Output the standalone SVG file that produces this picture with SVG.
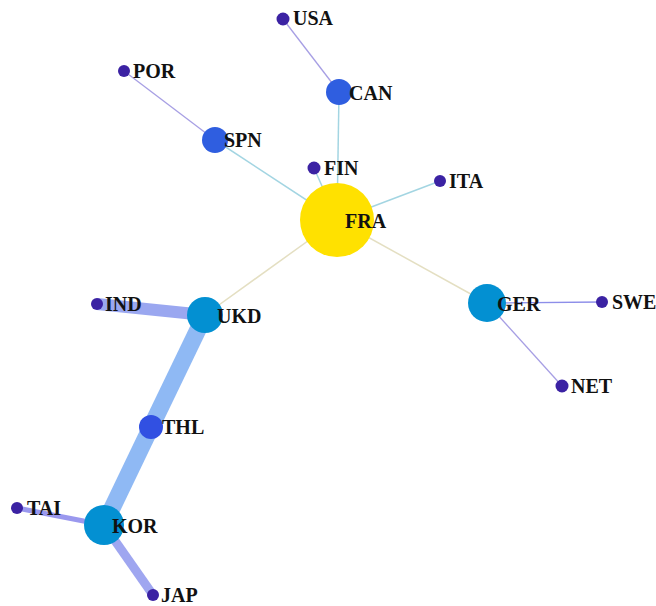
<svg xmlns="http://www.w3.org/2000/svg" width="656" height="606" viewBox="0 0 656 606">
<style>
text{font-family:"Liberation Serif","Times New Roman",serif;font-weight:bold;font-size:20px;fill:#111}
.e{fill:none;stroke-linecap:butt}
.t{stroke:#a3d5e2;stroke-width:1.5}
.b{stroke:#e4dfc2;stroke-width:1.5}
.l{stroke:#a79fe4;stroke-width:1.3}
.s{fill:#3b22a3}
.m{fill:#2f5ee0}
.h{fill:#3150e2}
.c{fill:#0390d2}
.y{fill:#ffe100}
</style>
<rect width="656" height="606" fill="#fff"/>
<g id="edges">
<line class="e t" x1="337" y1="220" x2="339" y2="92"/>
<line class="e t" x1="337" y1="220" x2="215" y2="140"/>
<line class="e t" x1="337" y1="220" x2="314" y2="168"/>
<line class="e t" x1="337" y1="220" x2="440" y2="181"/>
<line class="e b" x1="337" y1="220" x2="205" y2="315"/>
<line class="e b" x1="337" y1="220" x2="487" y2="303"/>
<line class="e l" x1="339" y1="92" x2="283" y2="19"/>
<line class="e l" x1="215" y1="140" x2="124" y2="71"/>
<line class="e l" x1="487" y1="303" x2="602" y2="302" style="stroke:#8d8ee9"/>
<line class="e l" x1="487" y1="303" x2="562" y2="386"/>
<line class="e" x1="97" y1="304" x2="205" y2="315" style="stroke:#9aa7f0;stroke-width:12"/>
<line class="e" x1="205" y1="315" x2="151" y2="427" style="stroke:#8fb9f4;stroke-width:17"/>
<line class="e" x1="151" y1="427" x2="104" y2="525" style="stroke:#8fb9f4;stroke-width:17"/>
<line class="e" x1="104" y1="525" x2="17" y2="508" style="stroke:#9a98ee;stroke-width:5"/>
<line class="e" x1="104" y1="525" x2="153" y2="595" style="stroke:#9fa6f0;stroke-width:9"/>
</g>
<g id="FRA"><circle class="y" cx="337" cy="220" r="37"/><text x="345" y="228">FRA</text></g>
<g id="CAN"><circle class="m" cx="339" cy="92" r="13"/><text x="349" y="100">CAN</text></g>
<g id="USA"><circle class="s" cx="283" cy="19" r="6.5"/><text x="293" y="25">USA</text></g>
<g id="POR"><circle class="s" cx="124" cy="71" r="6"/><text x="133" y="78">POR</text></g>
<g id="SPN"><circle class="m" cx="215" cy="140" r="13"/><text x="224" y="147">SPN</text></g>
<g id="FIN"><circle class="s" cx="314" cy="168" r="6.5"/><text x="324" y="175">FIN</text></g>
<g id="ITA"><circle class="s" cx="440" cy="181" r="6"/><text x="449" y="188">ITA</text></g>
<g id="UKD"><circle class="c" cx="205" cy="315" r="18"/><text x="217" y="323">UKD</text></g>
<g id="IND"><circle class="s" cx="97" cy="304" r="6"/><text x="105" y="311">IND</text></g>
<g id="THL"><circle class="h" cx="151" cy="427" r="12"/><text x="162" y="434">THL</text></g>
<g id="KOR"><circle class="c" cx="104" cy="525" r="20"/><text x="112" y="533">KOR</text></g>
<g id="TAI"><circle class="s" cx="17" cy="508" r="6"/><text x="27" y="515">TAI</text></g>
<g id="JAP"><circle class="s" cx="153" cy="595" r="6"/><text x="161" y="602">JAP</text></g>
<g id="GER"><circle class="c" cx="487" cy="303" r="19"/><text x="497" y="311">GER</text></g>
<g id="SWE"><circle class="s" cx="602" cy="302" r="6"/><text x="612" y="309">SWE</text></g>
<g id="NET"><circle class="s" cx="562" cy="386" r="6.5"/><text x="571" y="393">NET</text></g>
</svg>
